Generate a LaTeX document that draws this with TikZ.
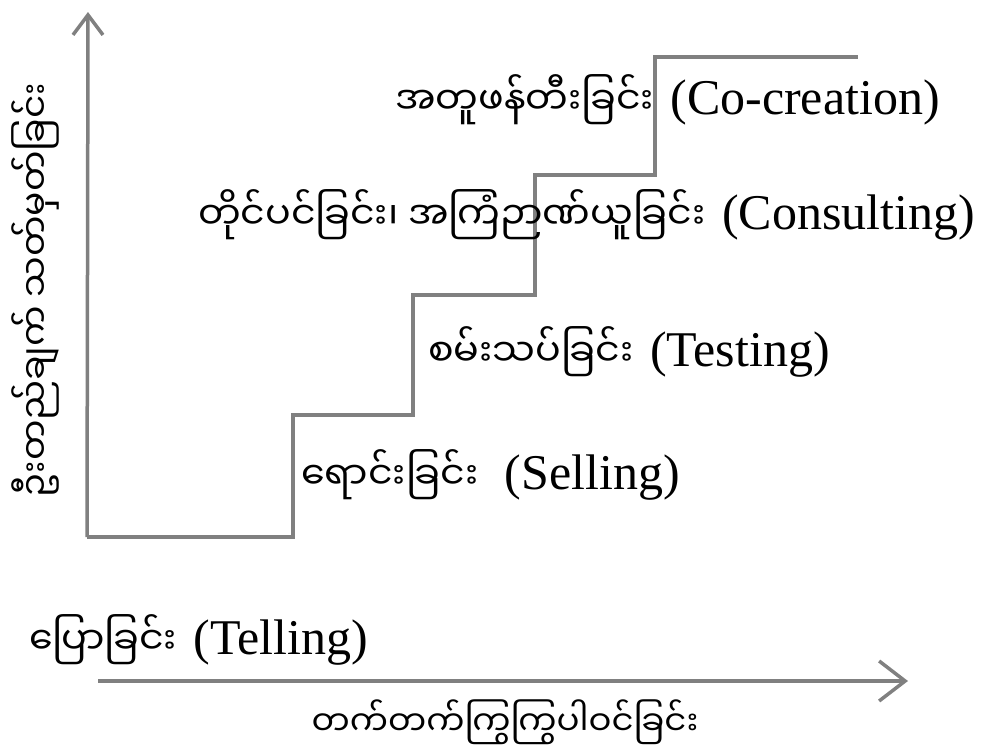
\documentclass[tikz,border=0pt]{standalone}
\usepackage{fontspec}
\setmainfont{Liberation Serif}
\newfontfamily\mm[Script=Myanmar]{Noto Sans Myanmar UI}
\usetikzlibrary{arrows.meta}
\definecolor{linegray}{HTML}{808080}
\newcommand{\mmt}[1]{{\fontsize{38}{46}\selectfont\mm #1}}
\begin{document}
\begin{tikzpicture}[x=1pt,y=-1pt,
  stair/.style={draw=linegray, line width=3.5pt, line join=miter},
  yarrow/.style={draw=linegray, line width=3.5pt, -{Straight Barb[length=20pt,width=30pt,line width=3.5pt]}},
  xarrow/.style={draw=linegray, line width=3.5pt, -{Straight Barb[length=26pt,width=40pt,line width=3.5pt]}},
  lbl/.style={inner sep=0pt, font=\fontsize{50}{60}\selectfont, text=black}]
\useasboundingbox (0,0) rectangle (993,755);
\coordinate (o) at (87,537);
\coordinate (ytip) at (88,12);
\coordinate (s1) at (293,537);
\coordinate (s2) at (293,415);
\coordinate (s3) at (413,415);
\coordinate (s4) at (413,295);
\coordinate (s5) at (535,295);
\coordinate (s6) at (535,175);
\coordinate (s7) at (655,175);
\coordinate (s8) at (655,57);
\coordinate (s9) at (858,57);
\coordinate (xs) at (98,681);
\coordinate (xtip) at (908,681);
\draw[stair] (o) -- (s1) -- (s2) -- (s3) -- (s4) -- (s5) -- (s6) -- (s7) -- (s8) -- (s9);
\draw[yarrow] (o) -- (ytip);
\draw[xarrow] (xs) -- (xtip);
\node[lbl, anchor=east] (cocr) at (940,100) {\mmt{အတူဖန်တီးခြင်း}\hspace{4pt} (Co-creation)};
\node[lbl, anchor=east] (cons) at (975,215) {\mmt{တိုင်ပင်ခြင်း၊ အကြံဉာဏ်ယူခြင်း}\hspace{4pt} (Consulting)};
\node[lbl, anchor=east] (test) at (830,352) {\mmt{စမ်းသပ်ခြင်း}\hspace{4pt} (Testing)};
\node[lbl, anchor=east] (sell) at (680,475) {\mmt{ရောင်းခြင်း}\hspace{14pt} (Selling)};
\node[lbl, anchor=east] (tell) at (368,640) {\mmt{ပြောခြင်း}\hspace{4pt} (Telling)};
\node[lbl, inner sep=0pt] (xlab) at (505,722) {\fontsize{34}{42}\selectfont\mm တက်တက်ကြွကြွပါဝင်ခြင်း};
\node[lbl, rotate=90] (ylab) at (35,290) {\fontsize{36}{44}\selectfont\mm ဦးတည်ချက် သတ်မှတ်ခြင်း};
\end{tikzpicture}
\end{document}
